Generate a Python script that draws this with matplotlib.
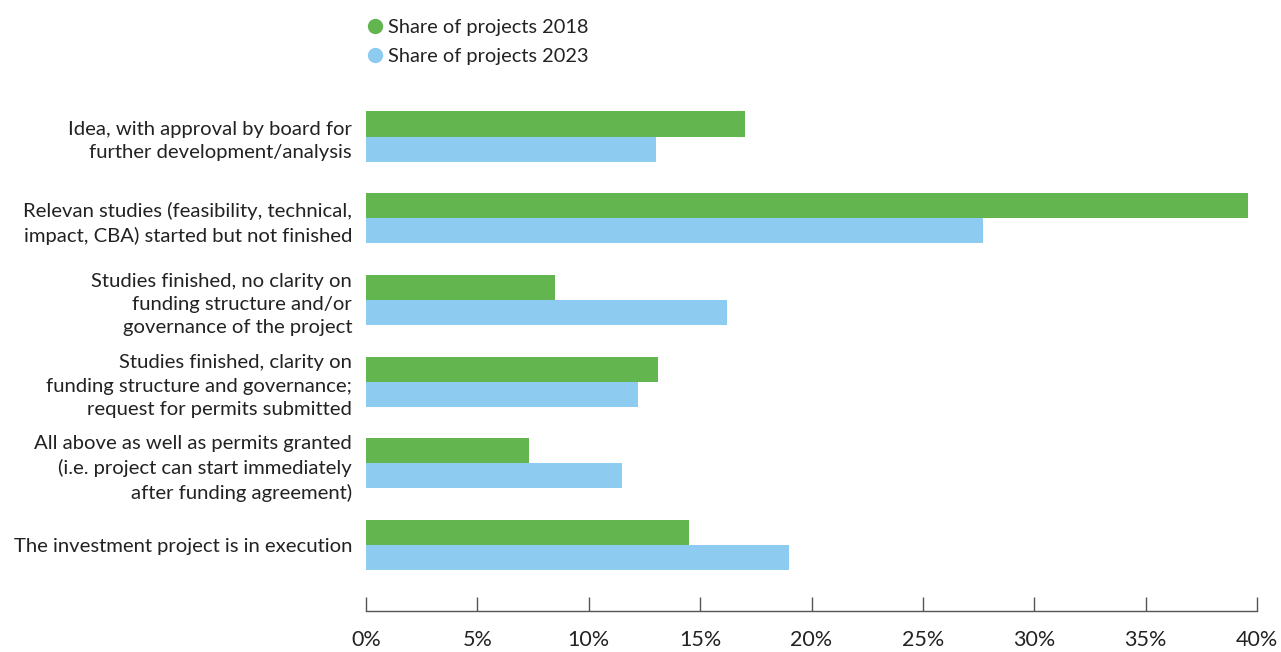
import matplotlib
matplotlib.use("Agg")
import matplotlib.pyplot as plt
from matplotlib.lines import Line2D
import numpy as np

categories = [
    "Idea, with approval by board for\nfurther development/analysis",
    "Relevan studies (feasibility, technical,\nimpact, CBA) started but not finished",
    "Studies finished, no clarity on\nfunding structure and/or\ngovernance of the project",
    "Studies finished, clarity on\nfunding structure and governance;\nrequest for permits submitted",
    "All above as well as permits granted\n(i.e. project can start immediately\nafter funding agreement)",
    "The investment project is in execution",
]
share_2018 = [17.0, 39.6, 8.5, 13.1, 7.3, 14.5]
share_2023 = [13.0, 27.7, 16.2, 12.2, 11.5, 19.0]
series_names = ["Share of projects 2018", "Share of projects 2023"]
x_ticks = [0, 5, 10, 15, 20, 25, 30, 35, 40]

GREEN = "#63b550"
BLUE = "#8ecbf0"
TEXT = "#222222"

plt.rcParams['font.family'] = ['Lato', 'DejaVu Sans']

W, H = 1281, 652
fig = plt.figure(figsize=(W/100, H/100), dpi=100)
top_px, bot_px = 100, 611
ax = fig.add_axes([366/W, 1 - bot_px/H, (1257-366)/W, (bot_px-top_px)/H])

y = np.arange(len(categories))
bh = 0.306
ax.barh(y - bh/2, share_2018, height=bh, color=GREEN)
ax.barh(y + bh/2, share_2023, height=bh, color=BLUE)

ax.set_ylim((bot_px-136.5)/81.7, (top_px-136.5)/81.7)
ax.set_xlim(0, 40)
ax.set_yticks(y)
ax.set_yticklabels(categories, fontsize=14.6, color=TEXT, linespacing=1.45)
ax.tick_params(axis='y', length=0, pad=10)
ax.set_xticks(x_ticks)
ax.set_xticklabels([f"{v}%" for v in x_ticks], fontsize=15.5, color=TEXT)
ax.tick_params(axis='x', direction='in', length=10, width=1, color='#555555', pad=21)
ax.xaxis.set_ticks_position('bottom')
for tl in ax.get_xticklabels():
    tl.set_va('center')
for s in ['top', 'right', 'left']:
    ax.spines[s].set_visible(False)
ax.spines['bottom'].set_color('#555555')
ax.spines['bottom'].set_linewidth(1)

handles = [Line2D([], [], marker='o', linestyle='', markersize=10, color=c) for c in (GREEN, BLUE)]
fig.legend(handles, series_names, loc='upper left', bbox_to_anchor=(363/W, 1 - 19/H),
           frameon=False, fontsize=14.4, handletextpad=0.05, labelspacing=0.6,
           handlelength=1.2, borderaxespad=0, borderpad=0, labelcolor=TEXT)

fig.savefig("out.png", dpi=100)
